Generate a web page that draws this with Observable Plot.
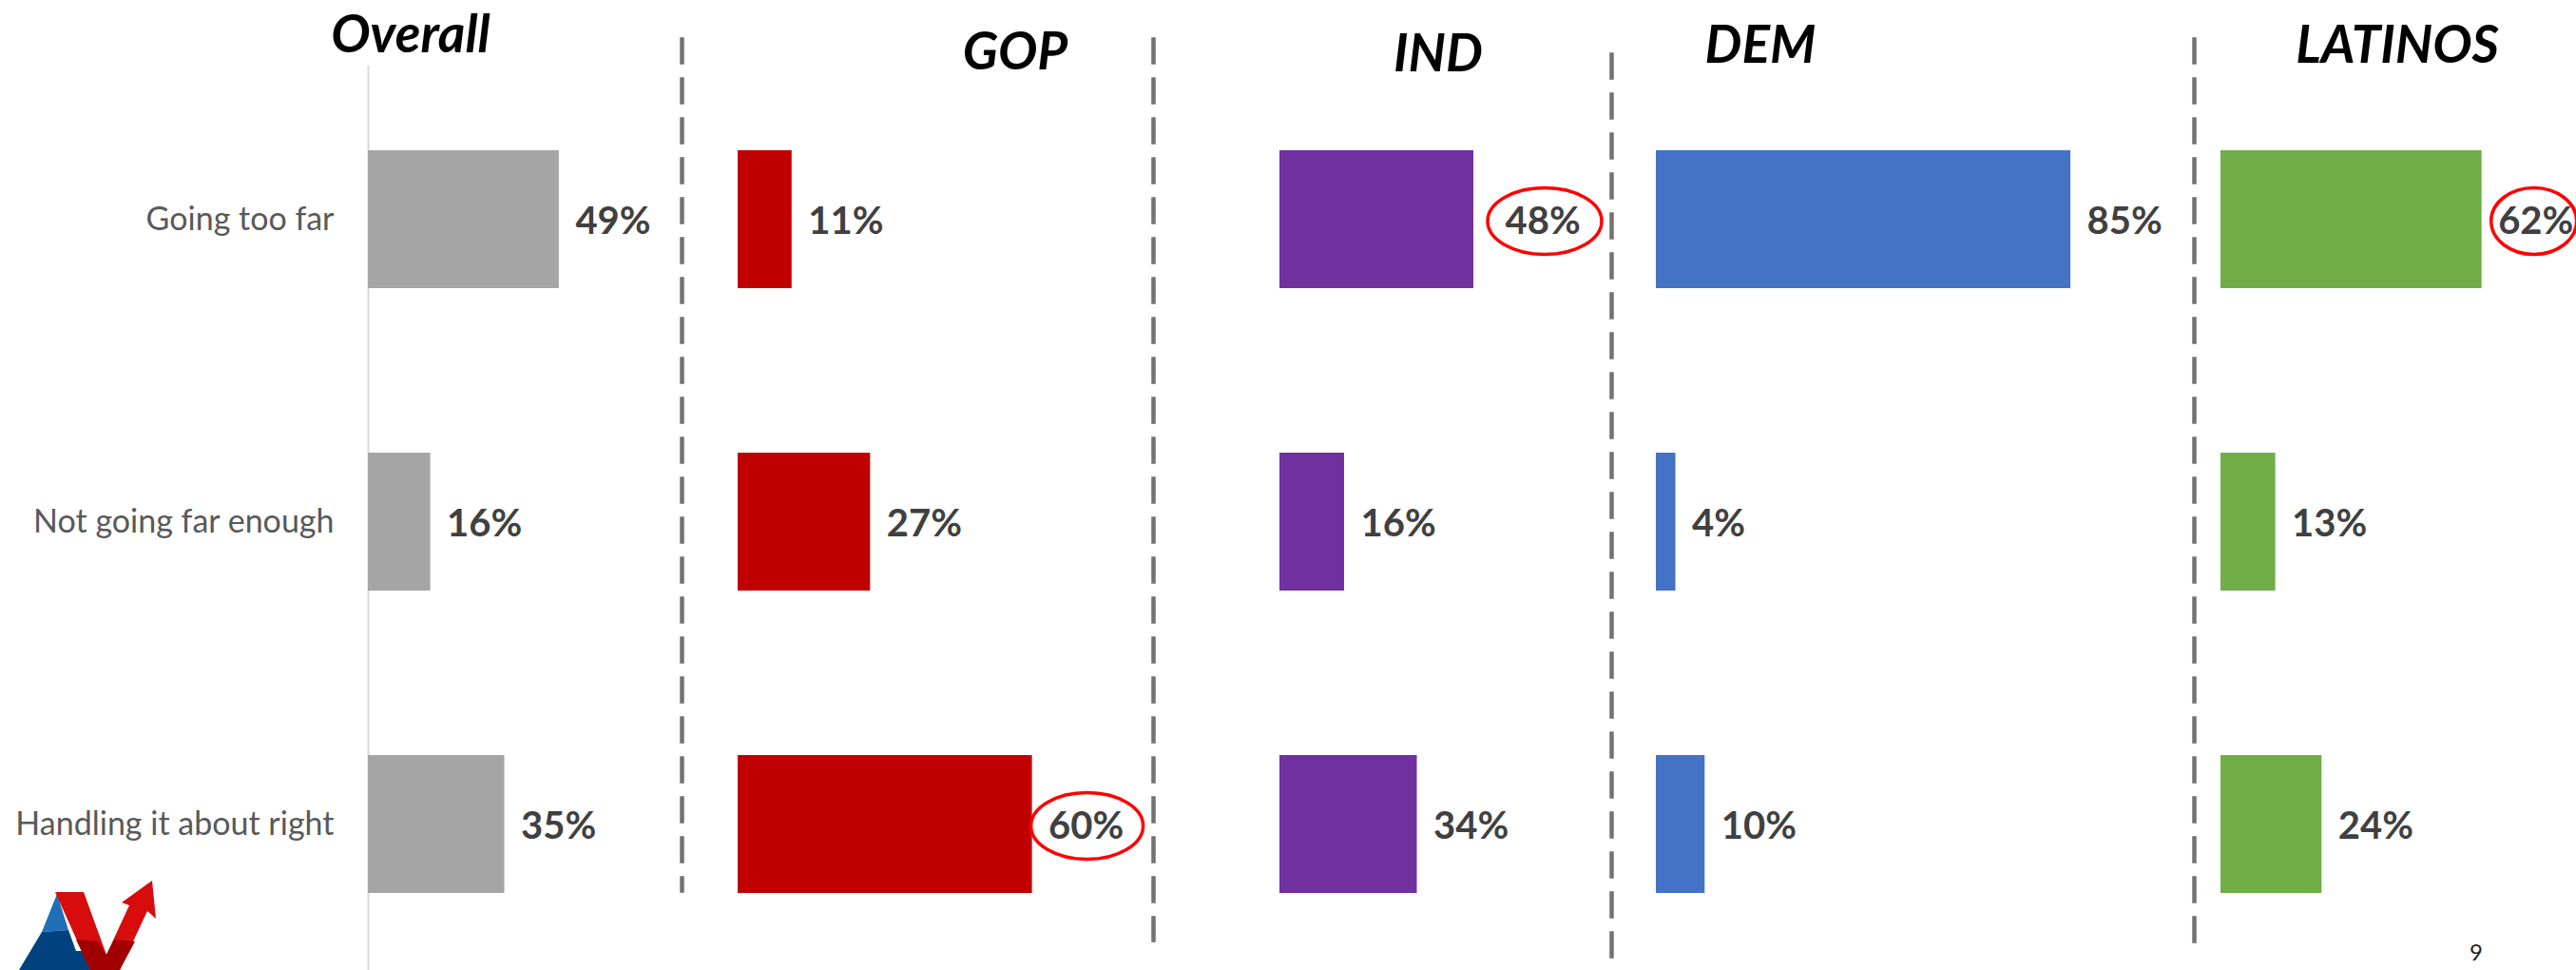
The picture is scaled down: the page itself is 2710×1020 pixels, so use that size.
<!DOCTYPE html>
<html><head><meta charset="utf-8">
<script src="https://cdn.jsdelivr.net/npm/d3@7"></script>
<script src="https://cdn.jsdelivr.net/npm/@observablehq/plot@0.6"></script>
<style>
html,body{margin:0;padding:0;background:#fff;}
#chart{position:relative;width:2710px;height:1020px;overflow:hidden;background:#fff;}
#chart svg{position:absolute;left:0;top:0;}
</style></head><body><div id="chart"></div>
<script>
// ---- data ----
const categories = ["Going too far", "Not going far enough", "Handling it about right"];
const groups = ["Overall", "GOP", "IND", "DEM", "LATINOS"];
const overallValues = [49, 16, 35];
const gopValues = [11, 27, 60];
const indValues = [48, 16, 34];
const demValues = [85, 4, 10];
const latinosValues = [62, 13, 24];
const highlighted = [
  {group: "GOP", category: "Handling it about right"},
  {group: "IND", category: "Going too far"},
  {group: "LATINOS", category: "Going too far"}
];
const pageNumber = "9";

const valuesByGroup = {Overall: overallValues, GOP: gopValues, IND: indValues, DEM: demValues, LATINOS: latinosValues};

// ---- layout / styles ----
const H = 1020, W = 2710, TOP = 69;
const styleByGroup = {
  Overall: {color: "#a5a5a5", base: 387, k: 4.1,  left: 387,  titleX: 432,  titleY: 55},
  GOP:     {color: "#c00000", base: 776, k: 5.16, left: 717,  sepTop: 41, sepBottom: 936,  titleX: 1068, titleY: 73, hiDx: 17, ellDx: 58, rx: 59},
  IND:     {color: "#7030a0", base: 1346, k: 4.25, left: 1213, sepTop: 41, sepBottom: 988, titleX: 1513, titleY: 75, hiDx: 33, ellDx: 75, rx: 60},
  DEM:     {color: "#4472c4", base: 1742, k: 5.13, left: 1695, sepTop: 57, sepBottom: 1020, titleX: 1852, titleY: 66},
  LATINOS: {color: "#70ad47", base: 2336, k: 4.43, left: 2308, sepTop: 41, sepBottom: 1003, titleX: 2522, titleY: 66, hiDx: 17, ellDx: 55, rx: 45}
};

function ellipseMark(rows, {dx, rx, ry}) {
  return (index, scales) => {
    const g = d3.create("svg:g").attr("fill", "none").attr("stroke", "#ff0000").attr("stroke-width", 3.5);
    const bw = scales.y && scales.y.bandwidth ? scales.y.bandwidth() : 0;
    for (const d of rows) {
      g.append("ellipse")
        .attr("cx", scales.x(d.value) + dx)
        .attr("cy", scales.y(d.category) + bw / 2 + 2)
        .attr("rx", rx).attr("ry", ry);
    }
    return g.node();
  };
}

const chart = document.getElementById("chart");

for (const g of groups) {
  const s = styleByGroup[g];
  const rows = categories.map((c, i) => ({group: g, category: c, value: valuesByGroup[g][i]}));
  const isHi = r => highlighted.some(h => h.group === g && h.category === r.category);
  const normal = rows.filter(r => !isHi(r));
  const hi = rows.filter(isHi);
  const textOpts = {x: "value", y: "category", text: d => d.value + "%", textAnchor: "start",
    fill: "#404040", fontSize: 40, fontWeight: "bold", fontFamily: "Lato", dy: 2};
  const marks = [];
  if (g === "Overall") {
    marks.push(Plot.ruleX([0], {stroke: "#d9d9d9", strokeWidth: 2}));
  } else {
    marks.push(Plot.frame({anchor: "left", stroke: "#767171", strokeWidth: 4.5, strokeDasharray: "24,18",
      insetTop: s.sepTop - TOP, insetBottom: H - s.sepBottom}));
  }
  marks.push(Plot.barX(rows, {x: "value", y: "category", fill: s.color}));
  marks.push(Plot.text(normal, {...textOpts, dx: 17}));
  if (hi.length) {
    marks.push(Plot.text(hi, {...textOpts, dx: s.hiDx}));
    marks.push(ellipseMark(hi, {dx: s.ellDx, rx: s.rx, ry: 35}));
  }
  const svg = Plot.plot({
    width: W, height: H,
    marginTop: TOP, marginBottom: 0, marginLeft: s.left, marginRight: 0,
    x: {domain: [0, 100], range: [s.base, s.base + 100 * s.k], axis: null},
    y: {domain: categories, paddingInner: 0.545, paddingOuter: 0.264, align: 0.52,
        axis: g === "Overall" ? "left" : null, tickSize: 0, tickPadding: 36, label: null},
    style: {fontFamily: "Lato", fontSize: "34px", color: "#595959", background: "transparent", overflow: "visible"},
    marks
  });
  svg.style.background = "transparent";
  chart.appendChild(svg);
}

// ---- titles, logo, page number ----
const over = d3.create("svg").attr("width", W).attr("height", H).style("background", "transparent");
over.selectAll("text.title").data(groups).join("text")
  .attr("class", "title")
  .attr("x", d => styleByGroup[d].titleX)
  .attr("y", d => styleByGroup[d].titleY)
  .attr("text-anchor", "middle")
  .attr("font-family", "Lato").attr("font-weight", "bold").attr("font-style", "italic")
  .attr("font-size", 55).attr("fill", "#000")
  .text(d => d);
over.append("text").attr("x", 2598).attr("y", 1010).attr("font-family", "Lato")
  .attr("font-size", 24).attr("fill", "#222").text(pageNumber);
const logo = over.append("g");
logo.append("polygon").attr("points", "60,940 72,978 44,980").attr("fill", "#1f6fb8");
logo.append("polygon").attr("points", "44,980 72,978 80,1000 94,1000 100,1020 20,1020").attr("fill", "#00427f");
logo.append("polygon").attr("points", "58,938 88,938 112,1004 136,952 128,949 160,926 164,966 155,958 126,1020 95,1020").attr("fill", "#d70d0d");
logo.append("polygon").attr("points", "80,988 103,990 112,1004 120,988 142,990 126,1020 95,1020").attr("fill", "#a00000");
chart.appendChild(over.node());
</script>
</body></html>
